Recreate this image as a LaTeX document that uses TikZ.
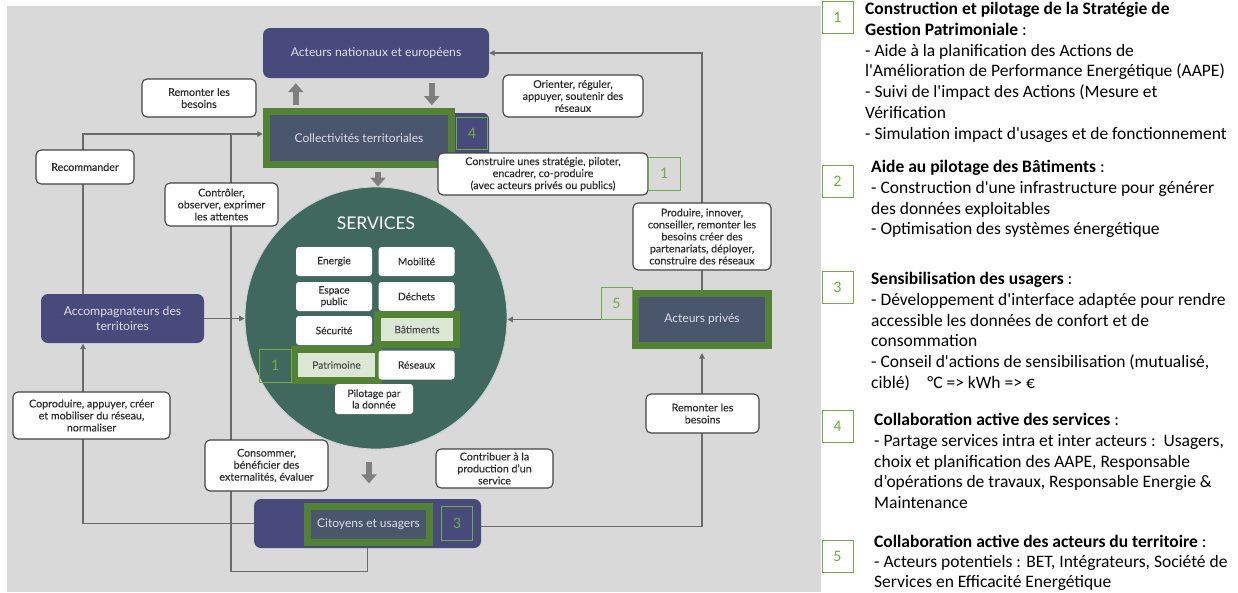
\documentclass[tikz,border=0pt]{standalone}
\usepackage{fontspec}
\setmainfont{Lato}
\newfontfamily\calfont{Carlito}
\newfontfamily\medfont{Lato}[FakeBold=0.25]
\usetikzlibrary{arrows.meta,calc}
\pgfdeclarelayer{bgfill}
\pgfdeclarelayer{lines}
\pgfsetlayers{bgfill,lines,main}

\definecolor{bg}{HTML}{D9D9D9}
\definecolor{navy}{HTML}{474A7A}
\definecolor{slate}{HTML}{4A566C}
\definecolor{gborder}{HTML}{538135}
\definecolor{gthin}{HTML}{70AD47}
\definecolor{circ}{HTML}{41685D}
\definecolor{lgreen}{HTML}{DCE6D4}
\definecolor{arrowgray}{HTML}{7F7F7F}
\definecolor{linegray}{HTML}{6A6A6A}
\definecolor{txtdark}{HTML}{2E2E2E}
\definecolor{txtlight}{HTML}{DDDDEB}

\begin{document}
\begin{tikzpicture}[x=1pt,y=-1pt,
  navybox/.style={fill=navy, rounded corners=7pt, inner sep=0pt, text=txtlight, font=\fontsize{12.2}{14.5}\selectfont, align=center},
  greenbox/.style={fill=slate, draw=gborder, line width=7pt, inner sep=0pt, text=txtlight, font=\fontsize{12}{14}\selectfont, align=center},
  labelbox/.style={fill=white, draw=txtdark!90, line width=1.1pt, rounded corners=5pt, inner sep=0pt, align=center, text=txtdark, font=\medfont\fontsize{10.7}{12}\selectfont},
  svcbox/.style={fill=white, rounded corners=3pt, inner sep=0pt, minimum width=76pt, minimum height=29pt, align=center, text=txtdark, font=\medfont\fontsize{10.2}{11.5}\selectfont},
  svcgreen/.style={fill=lgreen, draw=gborder, line width=7pt, inner sep=0pt, align=center, text=txtdark!85, font=\medfont\fontsize{10.2}{11.5}\selectfont},
  numbox/.style={draw=gthin, line width=0.9pt, inner sep=0pt, minimum width=31pt, minimum height=32pt, text=gthin, font=\calfont\fontsize{16}{18}\selectfont},
  conn/.style={draw=linegray, line width=1.1pt},
  arr/.style={-{Triangle[width=5.5pt,length=5.5pt]}},
  bigarrow/.style={draw=arrowgray, line width=6pt, -{Triangle[width=15pt,length=9pt]}},
  sidetext/.style={anchor=north west, inner sep=0pt, align=left, font=\calfont\fontsize{17.5}{20.8}\selectfont, text=black}
]
\useasboundingbox (0,0) rectangle (1238,592);
\begin{pgfonlayer}{bgfill}
\fill[white] (0,0) rectangle (1238,592);
\fill[bg] (7,6) rectangle (821,592);
\end{pgfonlayer}

% main actors
\node[navybox, minimum width=226pt, minimum height=50pt] (nat) at (376,53) {Acteurs nationaux et européens};
\node[fill=navy, rounded corners=6pt, minimum width=226pt, minimum height=50pt, inner sep=0pt] (collbg) at (376,138) {};
\node[greenbox, minimum width=185pt, minimum height=53pt] (coll) at (359,138) {Collectivités territoriales};
\node[numbox] (n4) at (472,133) {4};

\node[navybox, minimum width=163pt, minimum height=49pt] (acc) at (122.5,318.5) {Accompagnateurs des\\territoires};

\node[greenbox, minimum width=133pt, minimum height=52pt] (priv) at (702,319.5) {Acteurs privés};
\node[numbox] (n5) at (616.5,303.5) {5};

\node[navybox, minimum width=227pt, minimum height=49pt] (citbg) at (367.5,523.5) {};
\node[greenbox, minimum width=122pt, minimum height=36pt] (cit) at (368.5,524.5) {Citoyens et usagers};
\node[numbox, minimum height=34pt] (n3) at (457,523) {3};

% services circle
\node[circle, fill=circ, draw=white!70!circ, line width=0.8pt, minimum size=262pt, inner sep=0pt] (svc) at (376,318) {};
\node[text=white, font=\fontsize{17.5}{20}\selectfont, inner sep=0pt] (svctitle) at (376,223) {SERVICES};
\node[svcbox] (s1) at (334,261.5) {Energie};
\node[svcbox] (s2) at (416.5,261.5) {Mobilité};
\node[svcbox] (s3) at (334,296.5) {Espace\\public};
\node[svcbox] (s4) at (416.5,296.5) {Déchets};
\node[svcbox] (s5) at (334,330.5) {Sécurité};
\node[svcgreen, minimum width=79pt, minimum height=30pt] (s6) at (417,329.5) {Bâtiments};
\node[svcgreen, minimum width=84pt, minimum height=31pt] (s7) at (336.5,365) {Patrimoine};
\node[svcbox] (s8) at (416.5,365) {Réseaux};
\node[svcbox, minimum width=78pt, minimum height=30pt] (s9) at (374,399) {Pilotage par\\la donnée};
\node[numbox, minimum width=32pt, minimum height=33pt] (n1b) at (275,365.5) {1};

% label boxes
\node[labelbox, minimum width=114pt, minimum height=38pt] (lRemL) at (199,98) {Remonter les\\besoins};
\node[labelbox, minimum width=140pt, minimum height=42pt] (lOri) at (573,96) {Orienter, réguler,\\appuyer, soutenir des\\réseaux};
\node[labelbox, minimum width=98pt, minimum height=34pt] (lRec) at (85,167) {Recommander};
\node[labelbox, minimum width=113pt, minimum height=43pt] (lCtl) at (221.5,204.5) {Contrôler,\\observer, exprimer\\les attentes};
\node[labelbox, minimum width=210pt, minimum height=42pt] (lCons) at (543,174) {Construire unes stratégie, piloter,\\encadrer, co-produire\\(avec acteurs privés ou publics)};
\node[numbox, minimum width=32pt, minimum height=33pt] (n1a) at (664,173.5) {1};
\node[labelbox, minimum width=138pt, minimum height=67pt] (lProd) at (702,236.5) {Produire, innover,\\conseiller, remonter les\\besoins créer des\\partenariats, déployer,\\construire des réseaux};
\node[labelbox, minimum width=157pt, minimum height=47pt] (lCop) at (91.5,415.5) {Coproduire, appuyer, créer\\et mobiliser du réseau,\\normaliser};
\node[labelbox, minimum width=123pt, minimum height=51pt] (lCsm) at (266.5,465.5) {Consommer,\\bénéficier des\\externalités, évaluer};
\node[labelbox, minimum width=117pt, minimum height=39pt] (lCtb) at (494.5,468.5) {Contribuer à la\\production d’un\\service};
\node[labelbox, minimum width=113pt, minimum height=39pt] (lRemR) at (702.5,413.5) {Remonter les\\besoins};

% connectors
\coordinate (jL) at (83,134);
\coordinate (jC) at (231,134);
\coordinate (ca) at ($(coll.south)+(19,3.5)$);
\coordinate (cb) at ($(svc.south)+(-7,13)$);
\coordinate (cr) at ($(citbg.east)+(0,3)$);
\begin{pgfonlayer}{lines}
\draw[conn, arr] (priv.north) |- (nat.east);
\draw[conn, arr] (cr) -| ($(priv.south)+(0,4)$);
\draw[conn, arr] (priv.west) -- (priv.west -| svc.east);
\draw[conn, arr] (acc.east) -- (acc.east -| svc.west);
\draw[conn, arr] (acc.north -| jL) -- (jL) -- (jL -| collbg.west);
\draw[conn, arr] (citbg.west) -| ($(acc.south -| jL)+(0,0.5)$);
\draw[conn] (citbg.south) -- ++(0,23) -| (jC);
\draw[bigarrow] ($(nat.south west)+(33,27)$) -- ($(nat.south west)+(33,5)$);
\draw[bigarrow] ($(nat.south west)+(169,5)$) -- ($(nat.south west)+(169,27)$);
\draw[bigarrow] (ca) -- (ca |- svc.north);
\draw[bigarrow] (cb) -- ++(0,21);
\end{pgfonlayer}

% right-hand legend
\node[numbox] (b1) at (837.5,17) {1};
\node[sidetext] (t1) at (865,2) {\textbf{Construction et pilotage de la Stratégie de}\\\textbf{Gestion Patrimoniale} :\\- Aide à la planification des Actions de\\l'Amélioration de Performance Energétique (AAPE)\\- Suivi de l'impact des Actions (Mesure et\\Vérification\\- Simulation impact d'usages et de fonctionnement};
\node[numbox] (b2) at (837.5,181) {2};
\node[sidetext] (t2) at (871,160) {\textbf{Aide au pilotage des Bâtiments} :\\- Construction d'une infrastructure pour générer\\des données exploitables\\- Optimisation des systèmes énergétique};
\node[numbox] (b3) at (837.5,287.5) {3};
\node[sidetext] (t3) at (871,272) {\textbf{Sensibilisation des usagers} :\\- Développement d'interface adaptée pour rendre\\accessible les données de confort et de\\consommation\\- Conseil d'actions de sensibilisation (mutualisé,\\ciblé)\quad °C => kWh => €};
\node[numbox] (b4) at (837.5,426.5) {4};
\node[sidetext] (t4) at (874,413) {\textbf{Collaboration active des services} :\\- Partage services intra et inter acteurs :\ \ Usagers,\\choix et planification des AAPE, Responsable\\d’opérations de travaux, Responsable Energie \&\\Maintenance};
\node[numbox] (b5) at (837.5,556) {5};
\node[sidetext, font=\calfont\fontsize{17.5}{20}\selectfont] (t5) at (874,535) {\textbf{Collaboration active des acteurs du territoire} :\\- Acteurs potentiels : BET, Intégrateurs, Société de\\Services en Efficacité Energétique};
\end{tikzpicture}
\end{document}
